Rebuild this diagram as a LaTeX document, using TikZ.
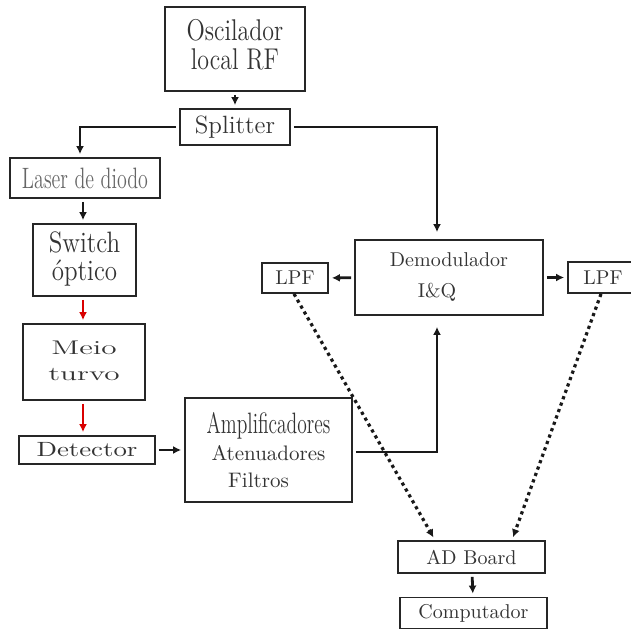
\documentclass[tikz,border=0pt]{standalone}
\usepackage{tikz}
\usepackage{graphicx}
\usetikzlibrary{arrows.meta, positioning, calc}

\newcommand{\stretchtext}[3]{\scalebox{#1}[#2]{#3}}

\tikzset{
  blockbox/.style={draw=black!85, line width=0.9pt, inner sep=0pt, text=black!80, align=center, font=\fontsize{10}{13}\selectfont},
  conn/.style={line width=1.4pt, black!90, -{Latex[length=4pt,width=4pt]}, shorten <=1.5pt, shorten >=1.5pt},
  redconn/.style={conn, red!85!black, line width=1pt},
  dotconn/.style={conn, line width=1.6pt, dash pattern=on 1.6pt off 1.8pt, shorten <=0pt},
}

\begin{document}
\begin{tikzpicture}[x=0.5pt, y=-0.5pt]
  \useasboundingbox (0,0) rectangle (631,630);
  % left chain
  \node[blockbox, minimum width=70pt, minimum height=42pt, font=\fontsize{12}{11.2}\selectfont] (osc) at (235,49)
    {\stretchtext{1}{1.25}{\begin{tabular}{@{}c@{}}Oscilador\\local RF\end{tabular}}};
  \node[blockbox, minimum width=55pt, minimum height=18pt, font=\fontsize{12.5}{14}\selectfont] (split) at (235,127) {Splitter};
  \node[blockbox, minimum width=75pt, minimum height=20pt, font=\fontsize{12.5}{14}\selectfont, text=black!60] (laser) at (85,178)
    {\stretchtext{0.8}{1.18}{Laser de diodo}};
  \node[blockbox, minimum width=51.5pt, minimum height=36pt, font=\fontsize{12.5}{11}\selectfont] (switch) at (84.5,260)
    {\stretchtext{1}{1.18}{\begin{tabular}{@{}c@{}}Switch\\óptico\end{tabular}}};
  \node[blockbox, minimum width=61pt, minimum height=38pt, font=\fontsize{11}{14.4}\selectfont] (meio) at (84,362)
    {\stretchtext{1.42}{0.9}{\begin{tabular}{@{}c@{}}Meio\\turvo\end{tabular}}};
  \node[blockbox, minimum width=68pt, minimum height=14pt] (det) at (87,450)
    {\stretchtext{1.34}{1.03}{Detector}};
  \node[blockbox, minimum width=83.5pt, minimum height=52pt, font=\fontsize{10.5}{13.5}\selectfont] (amp) at (268.5,450)
    {\stretchtext{0.78}{1.18}{\fontsize{12.5}{13}\selectfont Amplificadores}\\Atenuadores\\Filtros\rule{10pt}{0pt}};
  % right side
  \node[blockbox, minimum width=94pt, minimum height=37.5pt, font=\fontsize{10}{15.5}\selectfont] (demod) at (449,277.5)
    {Demodulador\\I\&Q\rule{12pt}{0pt}};
  \node[blockbox, minimum width=33pt, minimum height=15pt] (lpfl) at (295,278) {LPF};
  \node[blockbox, minimum width=35pt, minimum height=15.5pt] (lpfr) at (603,277.5) {LPF};
  \node[blockbox, minimum width=73.5pt, minimum height=16pt] (ad) at (471.5,557) {AD Board};
  \node[blockbox, minimum width=73.5pt, minimum height=15.5pt] (comp) at (473.5,613) {Computador};

  % connectors
  \draw[conn] (osc) -- (split);
  \draw[conn] (split.west) -| ([xshift=-2.5pt]laser.north);
  \draw[conn] ([xshift=-0.75pt]switch.north |- laser.south) -- ([xshift=-0.75pt]switch.north);
  \draw[redconn] ([xshift=-0.75pt]switch.south) -- ([xshift=-0.75pt]switch.south |- meio.north);
  \draw[redconn] ([xshift=-0.5pt]meio.south) -- ([xshift=-0.5pt]meio.south |- det.north);
  \draw[conn] (det) -- (amp);
  \draw[conn, shorten >=3.5pt] (split.east) -| ([xshift=-6pt]demod.north);
  \draw[conn, shorten >=5.5pt] ([yshift=-1pt]amp.east) -| ([xshift=-6pt]demod.south);
  \draw[conn] (demod) -- (lpfl);
  \draw[conn] (demod) -- (lpfr);
  \draw[dotconn] ([xshift=-0.5pt]lpfl.south) -- ([xshift=-18.25pt]ad.north);
  \draw[dotconn] ([xshift=-1pt]lpfr.south) -- ([xshift=20.25pt]ad.north);
  \draw[conn] (ad) -- (comp);
\end{tikzpicture}
\end{document}
